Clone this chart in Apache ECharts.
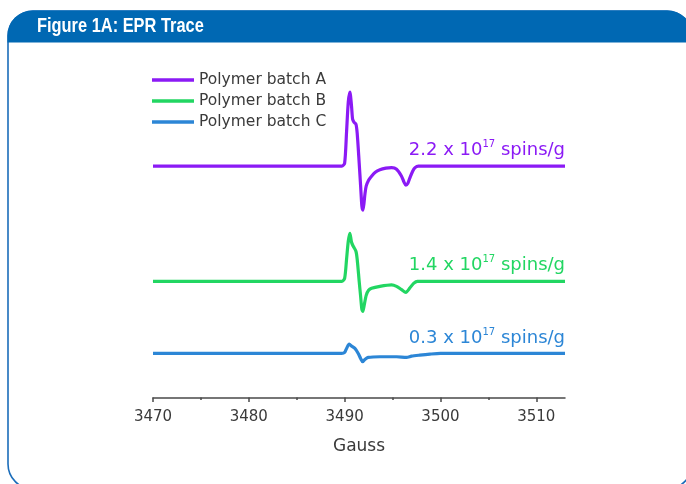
<!DOCTYPE html>
<html>
<head>
<meta charset="utf-8">
<script src="https://cdn.jsdelivr.net/npm/echarts@6/dist/echarts.min.js"></script>
<style>
html,body{margin:0;padding:0;background:#fff;}
#chart{width:686px;height:484px;}
</style>
</head>
<body>
<div id="chart"></div>
<script>
// ---- data ----
const titleText = 'Figure 1A: EPR Trace';
const axisName = 'Gauss';
const majorTicks = [3470, 3480, 3490, 3500, 3510];
const minorTicks = [3475, 3485, 3495, 3505];
const seriesNames = ['Polymer batch A', 'Polymer batch B', 'Polymer batch C'];
const spinValues = ['2.2', '1.4', '0.3'];
const spinExponent = '17';

// [Gauss, signal (arbitrary units)]
const batchA = [[3470,0],[3489.7,0],[3490.0,3],[3490.2,34],[3490.38,64],[3490.55,74],[3490.72,60],[3490.83,47],[3490.97,44],[3491.18,42],[3491.31,33],[3491.52,3],[3491.67,-20],[3491.8,-40],[3491.9,-44],[3492.02,-37],[3492.13,-27],[3492.25,-20],[3492.5,-14],[3492.81,-10],[3493.2,-6],[3493.68,-3.5],[3494.3,-2],[3494.9,-1.5],[3495.42,-3],[3495.94,-10],[3496.2,-16],[3496.39,-19],[3496.6,-17],[3496.8,-12],[3497.1,-5],[3497.35,-1.5],[3497.7,0],[3513,0]];
const batchB = [[3470,0],[3489.7,0],[3490.0,3],[3490.2,22],[3490.38,40],[3490.55,48],[3490.72,39],[3490.9,35],[3491.18,30],[3491.31,22],[3491.52,0],[3491.67,-15],[3491.8,-28],[3491.9,-30],[3492.02,-25],[3492.25,-14],[3492.5,-9],[3492.81,-7],[3493.68,-5],[3494.9,-3.5],[3495.42,-5],[3495.94,-8.3],[3496.39,-11],[3496.8,-6.7],[3497.2,-2],[3497.6,0],[3513,0]];
const batchC = [[3470,0],[3489.7,0],[3490.0,1],[3490.2,5],[3490.48,9.3],[3490.73,7.3],[3491.07,5],[3491.42,0],[3491.67,-5],[3491.88,-8.3],[3492.11,-6],[3492.46,-4],[3493.68,-3.3],[3495.42,-3.3],[3496.46,-4],[3496.98,-2.7],[3497.84,-1.7],[3498.9,-0.7],[3500,0],[3513,0]];
const allBatches = [batchA, batchB, batchC];
const verticalOffsets = [231, 116, 44];   // trace stacking offsets
const colors = ['#8B1AF5', '#22D662', '#2C86D6'];

const xMin = 3470, xMax = 3513;
const FONT = "'DejaVu Sans', sans-serif";

const chart = echarts.init(document.getElementById('chart'), null, {renderer: 'canvas'});

const series = allBatches.map((b, i) => ({
  name: seriesNames[i],
  type: 'line',
  xAxisIndex: 0,
  data: b.map(p => [p[0], p[1] + verticalOffsets[i]]),
  symbol: 'none',
  smooth: 0.25,
  lineStyle: {color: colors[i], width: 3.2},
  itemStyle: {color: colors[i]},
  z: 3,
  markPoint: {
    symbol: 'circle',
    symbolSize: 1,
    itemStyle: {color: 'rgba(0,0,0,0)'},
    silent: true,
    data: [{coord: [xMax, verticalOffsets[i]]}],
    label: {
      show: true,
      position: 'top',
      distance: 4,
      align: 'right',
      formatter: '{a|' + spinValues[i] + ' x 10}{s|' + spinExponent + '}{a| spins/g}',
      rich: {
        a: {fontSize: 18, fontFamily: FONT, color: colors[i], lineHeight: 22},
        s: {fontSize: 10, fontFamily: FONT, color: colors[i], lineHeight: 13, verticalAlign: 'top'}
      }
    }
  }
}));

const option = {
  animation: false,
  backgroundColor: '#ffffff',
  graphic: [
    {type: 'rect', z: -10, silent: true,
     shape: {x: 8, y: 11, width: 684, height: 478, r: 25},
     style: {fill: '#ffffff', stroke: '#1B6DBA', lineWidth: 1.6}},
    {type: 'rect', z: -9, silent: true,
     shape: {x: 7.5, y: 10.5, width: 685, height: 32, r: [25, 25, 0, 0]},
     style: {fill: '#0068B3'}},
    {type: 'text', z: 10, silent: true,
     x: 37, y: 26, scaleX: 0.8,
     style: {text: titleText, fill: '#ffffff', font: "bold 20.5px 'Liberation Sans', Arial, sans-serif",
       textAlign: 'left', textVerticalAlign: 'middle'}}
  ],
  legend: {
    orient: 'vertical',
    left: 147, top: 67,
    icon: 'rect',
    itemWidth: 42, itemHeight: 3.5,
    itemGap: 5,
    textStyle: {fontSize: 15.5, fontFamily: FONT, color: '#3a3a3a', lineHeight: 16},
    data: seriesNames
  },
  grid: {left: 153, right: 121, top: 60, bottom: 86.5},
  xAxis: [{
    type: 'value', min: xMin, max: xMax, interval: 10,
    position: 'bottom',
    splitLine: {show: false},
    axisLine: {show: true, lineStyle: {color: '#4a4a4a', width: 1.5}},
    axisTick: {show: true, length: 4.5, inside: false, customValues: majorTicks,
      lineStyle: {color: '#4a4a4a', width: 1.5}},
    axisLabel: {show: true, customValues: majorTicks, margin: 12,
      formatter: v => String(v),
      fontSize: 15, fontFamily: FONT, color: '#3a3a3a'},
    name: axisName, nameLocation: 'middle', nameGap: 41,
    nameTextStyle: {fontSize: 17, fontFamily: FONT, color: '#3a3a3a'}
  }, {
    type: 'value', min: xMin, max: xMax, interval: 10,
    position: 'bottom',
    splitLine: {show: false},
    axisLine: {show: false},
    axisTick: {show: true, length: 2.5, inside: false, customValues: minorTicks,
      lineStyle: {color: '#4a4a4a', width: 1.5}},
    axisLabel: {show: false}
  }],
  yAxis: {type: 'value', min: 0, max: 337, show: false, splitLine: {show: false}},
  series: series
};
chart.setOption(option);
</script>
</body>
</html>
